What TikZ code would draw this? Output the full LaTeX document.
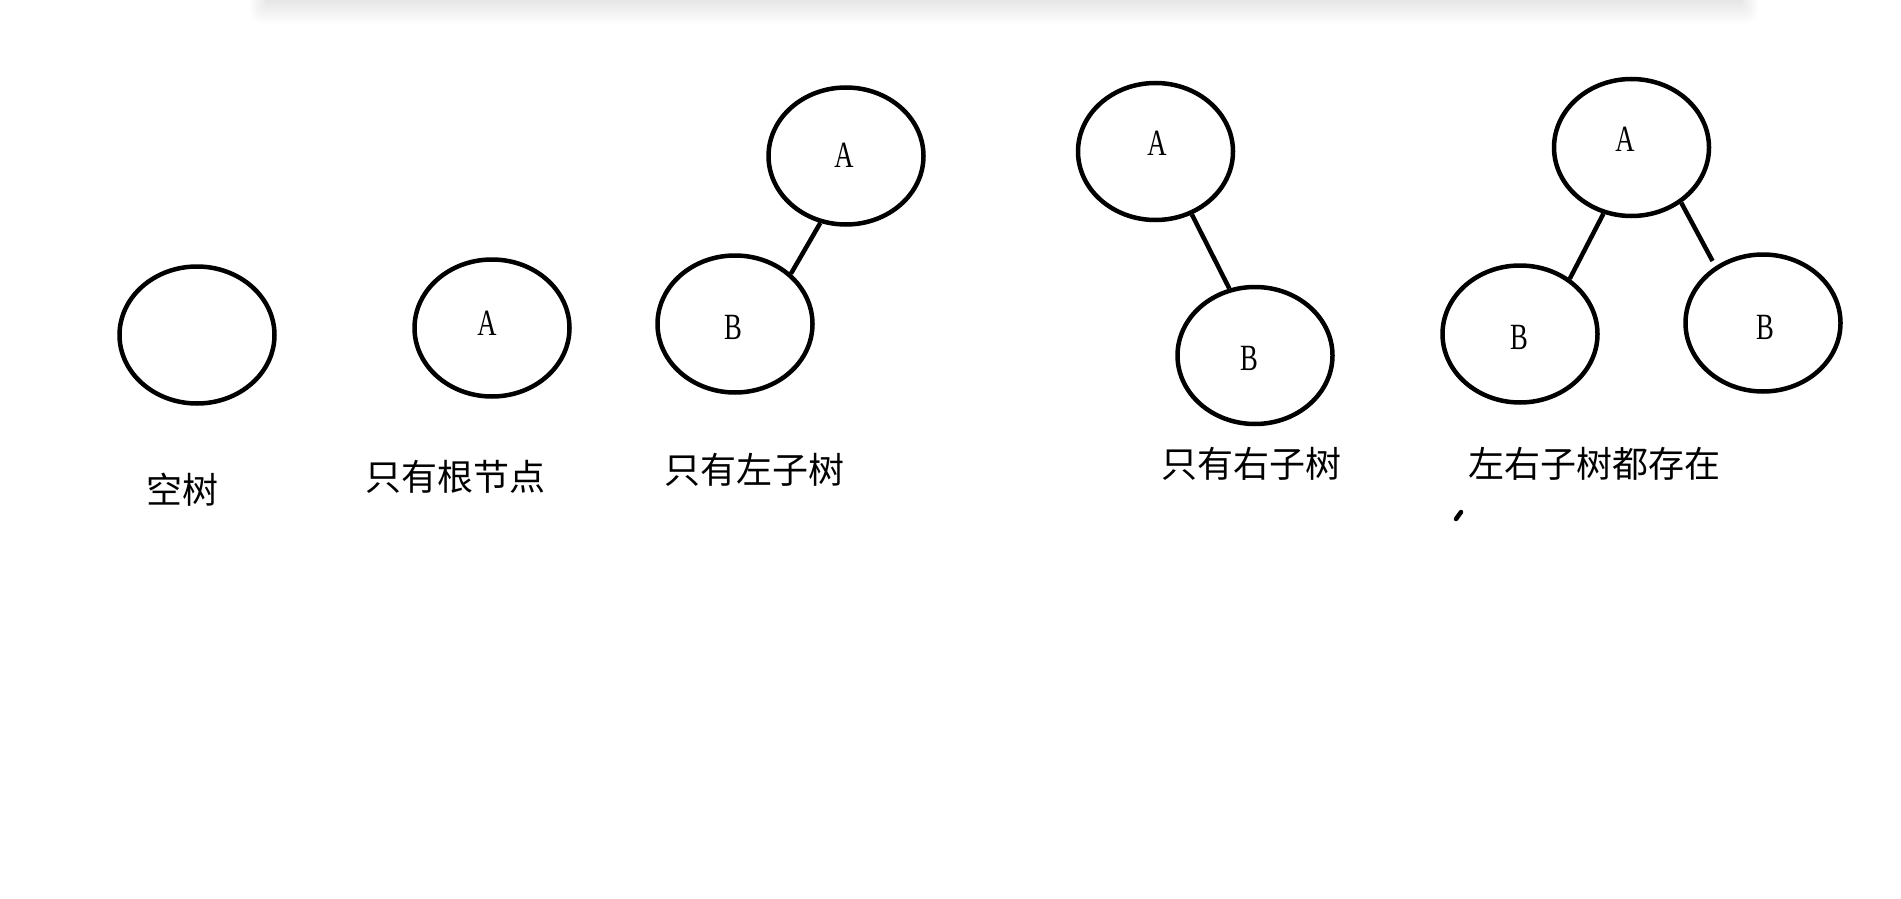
\documentclass[tikz,border=0pt]{standalone}
\usepackage{fontspec}
\newfontfamily\cjk{Noto Sans CJK SC}
\newfontfamily\latf[FakeStretch=0.72]{Liberation Serif}
\usetikzlibrary{shapes.geometric}
\tikzset{
  tn/.style={draw, ellipse, line width=4.5pt, minimum width=155pt, minimum height=137pt, inner sep=0pt},
  lbl/.style={inner sep=0pt, font=\latf\fontsize{37}{40}\selectfont},
  captxt/.style={inner sep=0pt, font=\cjk\fontsize{36}{40}\selectfont},
  edgeln/.style={line width=4.5pt},
  shadowlayer/.style={fill=black, fill opacity=0.007, draw=none}
}
\begin{document}
\begin{tikzpicture}[x=1pt,y=-1pt]
\useasboundingbox (0,0) rectangle (1901,899);
\fill[white] (0,0) rectangle (1901,899);
% soft shadow of a panel above the top edge
\foreach \i in {1,...,12}{
  \path[shadowlayer, rounded corners=\i pt] ({268-1.5*\i},-30) rectangle ({1740+1.5*\i},{2*\i});
}

% empty tree
\node[tn] (e1) at (197,335) {};
\node[captxt] (c1) at (182,490) {空树};

% root only
\node[tn] (r1) at (492,328) {};
\node[lbl] (r1t) at (487,323) {A};
\node[captxt] (c2) at (455,477) {只有根节点};

% left subtree only
\node[tn] (a3) at (846,156) {};
\node[lbl] (a3t) at (844,155) {A};
\node[tn] (b3) at (735,324) {};
\node[lbl] (b3t) at (733,327) {B};
\draw[edgeln] (b3.42) -- (a3.249);
\node[captxt] (c3) at (754,470) {只有左子树};

% right subtree only
\node[tn] (a4) at (1155.5,151.5) {};
\node[lbl] (a4t) at (1157,143) {A};
\node[tn] (b4) at (1255,355.5) {};
\node[lbl] (b4t) at (1249,358) {B};
\draw[edgeln] (a4.300) -- (b4.111);
\node[captxt] (c4) at (1251,464) {只有右子树};

% both subtrees
\node[tn] (a5) at (1631.5,147.5) {};
\node[lbl] (a5t) at (1625,139) {A};
\node[tn] (b5) at (1520,334) {};
\node[lbl] (b5t) at (1519,337) {B};
\node[tn] (c5) at (1763,323) {};
\node[lbl] (c5t) at (1765,327) {B};
\draw[edgeln] (b5.48) -- (a5.247);
\draw[edgeln, shorten <=6pt] (c5.130) -- (a5.312);
\node[captxt] (c5l) at (1594,464) {左右子树都存在};

% stray mark
\coordinate (m1) at (1456,519);
\coordinate (m2) at (1461,512);
\draw[line width=4.5pt, line cap=round] (m1) -- (m2);
\end{tikzpicture}
\end{document}
